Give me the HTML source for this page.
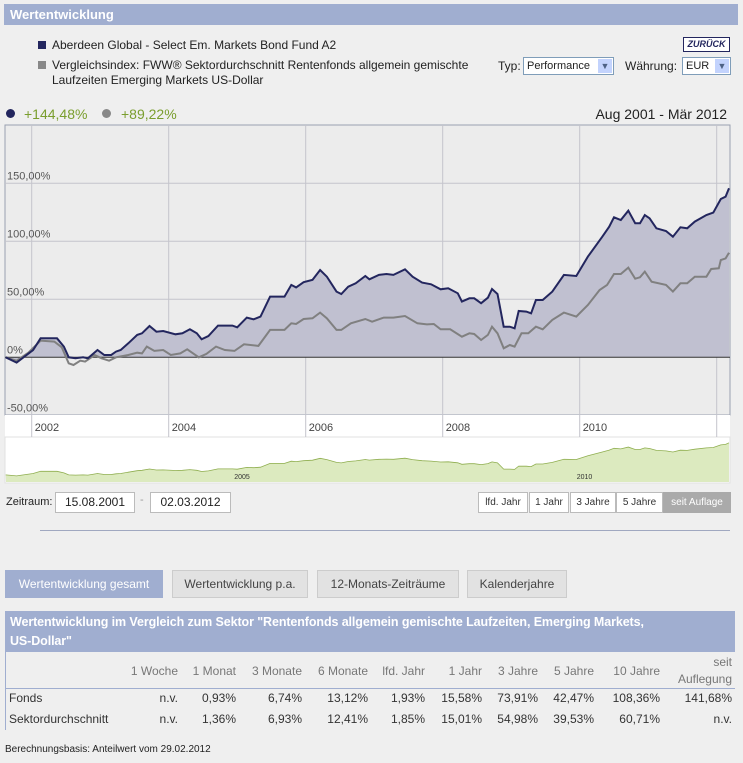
<!DOCTYPE html>
<html><head><meta charset="utf-8"><style>
body{margin:0;width:743px;height:763px;background:#efefef;font-family:"Liberation Sans",sans-serif;position:relative;overflow:hidden;color:#222}
.a{position:absolute}
.hdr{background:#a0aed0;color:#fff;font-weight:bold;font-size:13px}
.btn{position:absolute;top:492px;height:19px;background:#fff;border:1px solid #bbb;font-size:10px;line-height:19px;text-align:center;color:#333}
.tab{position:absolute;top:570px;height:26px;background:#e2e2e2;border:1px solid #ccc;font-size:12px;line-height:26px;text-align:center;color:#444}
.th{position:absolute;font-size:12px;color:#777;text-align:right}
.td{position:absolute;font-size:12px;color:#333;text-align:right}
</style></head><body>
<div class="a hdr" style="left:4px;top:4px;width:734px;height:21px;line-height:21px;padding-left:6px;box-sizing:border-box">Wertentwicklung</div>
<div class="a" style="left:38px;top:41px;width:8px;height:8px;background:#23265e"></div>
<div class="a" style="left:52px;top:38px;font-size:12px">Aberdeen Global - Select Em. Markets Bond Fund A2</div>
<div class="a" style="left:38px;top:61px;width:8px;height:8px;background:#888"></div>
<div class="a" style="left:52px;top:58px;font-size:12px;line-height:15px;width:440px">Vergleichsindex: FWW® Sektordurchschnitt Rentenfonds allgemein gemischte Laufzeiten Emerging Markets US-Dollar</div>
<div class="a" style="left:683px;top:37px;width:45px;height:13px;border:1px solid #23265e;background:#fff;font-size:9px;font-weight:bold;font-style:italic;color:#23265e;text-align:center;line-height:13px">ZURÜCK</div>
<div class="a" style="left:498px;top:59px;font-size:12px">Typ:</div>
<div class="a" style="left:523px;top:57px;width:86px;height:16px;border:1px solid #7f9db9;background:#fff;font-size:11px;line-height:16px;padding-left:3px;box-sizing:content-box">Performance<span style="position:absolute;right:1px;top:1px;width:14px;height:14px;background:#c3d3fd;color:#4d6185;font-size:9px;text-align:center;line-height:14px">▼</span></div>
<div class="a" style="left:625px;top:59px;font-size:12px">Währung:</div>
<div class="a" style="left:682px;top:57px;width:44px;height:16px;border:1px solid #7f9db9;background:#fff;font-size:11px;line-height:16px;padding-left:3px">EUR<span style="position:absolute;right:1px;top:1px;width:14px;height:14px;background:#c3d3fd;color:#4d6185;font-size:9px;text-align:center;line-height:14px">▼</span></div>
<div class="a" style="left:6px;top:109px;width:9px;height:9px;border-radius:50%;background:#23265e"></div>
<div class="a" style="left:24px;top:106px;font-size:14px;color:#7a9e2e">+144,48%</div>
<div class="a" style="left:102px;top:109px;width:9px;height:9px;border-radius:50%;background:#888"></div>
<div class="a" style="left:121px;top:106px;font-size:14px;color:#7a9e2e">+89,22%</div>
<div class="a" style="right:16px;top:106px;font-size:14px">Aug 2001 - Mär 2012</div>

<svg class="a" style="left:0;top:0" width="743" height="490">
<rect x="5" y="125" width="725" height="290" fill="#ececec" stroke="#9aa0b0"/>
<rect x="5" y="415" width="725" height="22" fill="#fff"/>
<rect x="5" y="437" width="725" height="46" fill="#fff" stroke="#e0e0e0"/>
<g id="grid"></g><g id="series"></g><g id="nav"></g>
</svg>

<div class="a" style="left:6px;top:496px;font-size:11px">Zeitraum:</div>
<div class="a" style="left:55px;top:492px;width:78px;height:19px;border:1px solid #bbb;background:#fff;font-size:12px;line-height:19px;text-align:center">15.08.2001</div>
<div class="a" style="left:140px;top:494px;font-size:11px;color:#999">-</div>
<div class="a" style="left:150px;top:492px;width:79px;height:19px;border:1px solid #bbb;background:#fff;font-size:12px;line-height:19px;text-align:center">02.03.2012</div>
<div class="btn" style="left:478px;width:48px">lfd. Jahr</div>
<div class="btn" style="left:529px;width:38px">1 Jahr</div>
<div class="btn" style="left:570px;width:44px">3 Jahre</div>
<div class="btn" style="left:616px;width:45px">5 Jahre</div>
<div class="btn" style="left:663px;width:66px;background:#aaa;border-color:#aaa;color:#fff">seit Auflage</div>
<div class="a" style="left:40px;top:530px;width:690px;height:1px;background:#a0a8c0"></div>

<div class="tab" style="left:5px;width:156px;background:#a0aed0;border-color:#a0aed0;color:#fff">Wertentwicklung gesamt</div>
<div class="tab" style="left:172px;width:134px">Wertentwicklung p.a.</div>
<div class="tab" style="left:317px;width:140px">12-Monats-Zeiträume</div>
<div class="tab" style="left:467px;width:98px">Kalenderjahre</div>

<div class="a hdr" style="left:5px;top:611px;width:730px;height:41px;padding:2px 5px;box-sizing:border-box;line-height:19px;font-size:12.5px;letter-spacing:-0.1px">Wertentwicklung im Vergleich zum Sektor "Rentenfonds allgemein gemischte Laufzeiten, Emerging Markets,<br>US-Dollar"</div>
<div class="a" style="left:5px;top:652px;width:1px;height:78px;background:#a0aed0"></div>
<div class="a" style="left:5px;top:688px;width:730px;height:1px;background:#a0aed0"></div>
<div id="tbl"></div>
<div class="a" style="left:5px;top:744px;font-size:10px">Berechnungsbasis: Anteilwert vom 29.02.2012</div>

<script>
const startYear = 2001.62;
const fundT = [0,.16,.26,.40,.51,.75,.85,.92,1.02,1.13,1.20,1.34,1.44,1.54,1.61,1.68,1.79,1.92,1.99,2.10,2.20,2.30,2.48,2.58,2.69,2.79,2.86,2.96,3.10,3.31,3.38,3.52,3.62,3.72,3.86,3.97,4.07,4.17,4.24,4.35,4.48,4.59,4.69,4.83,4.90,5.00,5.11,5.25,5.31,5.45,5.56,5.66,5.83,5.94,6.08,6.21,6.35,6.46,6.60,6.66,6.77,6.84,6.94,7.04,7.10,7.18,7.27,7.36,7.43,7.49,7.60,7.67,7.74,7.84,7.98,8.15,8.33,8.50,8.71,8.81,8.88,8.98,9.09,9.19,9.26,9.33,9.40,9.50,9.64,9.74,9.85,9.95,10.06,10.23,10.33,10.44,10.51,10.56];
const fundV = [0,-4.6,0,6.3,16.4,16.4,9.2,0,-0.9,0,-0.9,6.3,2,2,4.9,6.3,12.1,19.3,20.7,27,22.1,22.7,19.8,20.7,24.1,20.7,15.5,18.4,27.3,27.3,25.9,34.2,32.8,35.1,52.3,52.3,52.3,62.4,60.3,64.7,66.7,75.3,69.5,56.6,54.6,60.9,63.8,70.1,67.2,71,71.8,71,75.9,69.5,64.4,62.9,58.6,59.5,55.2,48,50.9,50.9,46.6,51.4,58.9,54.6,26.4,26.4,25,39.9,39.4,37.9,49.4,49.4,56.6,71,70.1,86.8,104,112.6,120.7,118.4,126.4,115.5,115.5,122.7,119.8,111.2,108.9,104,112.1,111.2,117,122.7,124.7,136.5,138.5,145.7];
const indexT = [0,.16,.33,.51,.71,.82,.92,.99,1.09,1.16,1.30,1.40,1.51,1.61,1.79,1.92,1.99,2.06,2.17,2.30,2.41,2.55,2.65,2.82,2.93,3.07,3.20,3.34,3.48,3.69,3.86,4.07,4.17,4.24,4.35,4.48,4.59,4.69,4.83,4.90,5.04,5.25,5.35,5.52,5.66,5.83,6.01,6.15,6.25,6.35,6.49,6.66,6.77,6.84,6.94,7.04,7.10,7.18,7.27,7.36,7.43,7.53,7.63,7.74,7.84,7.98,8.15,8.33,8.50,8.67,8.78,8.88,8.98,9.09,9.19,9.26,9.33,9.43,9.64,9.74,9.85,9.95,10.06,10.23,10.30,10.41,10.44,10.51,10.56];
const indexV = [0,-2.9,4,14.4,13.5,8.6,-5.2,-6.6,-2.9,-3.7,2,-0.9,-2.9,0,2,4,3.4,9.2,5.5,6.3,2,3.4,6.9,0,2.9,9.2,6.3,5.5,11.2,9.8,23.6,23.6,29.3,28.7,33,33.6,38.5,33.6,23.6,23.6,29.3,33,30.7,34.2,34.2,35.6,29.3,28.4,28.7,24.1,24.1,17.8,20.7,20.1,14.9,19.3,26.4,20.7,7.8,10.6,9.2,20.7,20.7,26.4,24.1,32.2,38.5,35.1,45.1,58,62.4,71.8,71.8,77.3,67.8,69,73.9,65.2,62.4,56.6,63.8,63.8,69.5,69.5,76.1,76.7,83.9,85.3,90.2];
const yTicks = [-50,0,50,100,150];
const yTickLabels = ["-50,00%","0%","50,00%","100,00%","150,00%"];
const xTicks = [2002,2004,2006,2008,2010,2012];
const xTickLabels = ["2002","2004","2006","2008","2010",""];
const navLabels = [2005,2010];

const NS="http://www.w3.org/2000/svg";
const X = yr => 31.7 + (yr-2002)*68.5;
const Y = v => 357.3 - v*1.16;
const NY = v => 476 - (v+5)*0.22;
function mk(tag, attrs, parent){const e=document.createElementNS(NS,tag);for(const k in attrs)e.setAttribute(k,attrs[k]);parent.appendChild(e);return e;}
const grid=document.getElementById('grid'), ser=document.getElementById('series'), nav=document.getElementById('nav');
xTicks.forEach((t,i)=>{
  const l=mk('line',{x1:X(t),x2:X(t),y1:125,y2:437,stroke:'#c4c4cc'},grid);
  
  
  const tx=mk('text',{x:X(t)+3,y:431,'font-size':11,fill:'#444','font-family':'Liberation Sans'},grid);
  tx.textContent=xTickLabels[i];
  
  
});
yTicks.forEach((v,i)=>{
  if(v!==-50&&v!==0){const l=mk('line',{x1:5,x2:730,y1:Y(v),y2:Y(v),stroke:'#c4c4cc'},grid);
  
  }
  const tx=mk('text',{x:7,y:Y(v)-4,'font-size':11,fill:'#555','font-family':'Liberation Sans'},grid);
  tx.textContent=yTickLabels[i];
  
  
});
const fp=fundT.map((t,i)=>X(startYear+t).toFixed(1)+','+Y(fundV[i]).toFixed(1));
const ip=indexT.map((t,i)=>X(startYear+t).toFixed(1)+','+Y(indexV[i]).toFixed(1));
const area=mk('polygon',{points:X(startYear+fundT[0])+','+Y(0)+' '+fp.join(' ')+' '+X(startYear+fundT[fundT.length-1])+','+Y(0),fill:'#c0c0d0'},ser);


const zl=mk('line',{x1:5,x2:730,y1:Y(0),y2:Y(0),stroke:'#333','stroke-width':1},ser);


const il=mk('polyline',{points:ip.join(' '),fill:'none',stroke:'#808080','stroke-width':2},ser);


const fl=mk('polyline',{points:fp.join(' '),fill:'none',stroke:'#23265e','stroke-width':2},ser);


const np=fundT.map((t,i)=>X(startYear+t).toFixed(1)+','+NY(fundV[i]).toFixed(1));
const na=mk('polygon',{points:'6,482 '+np.join(' ')+' 729,482',fill:'#dceabf',stroke:'none'},nav);


const nl=mk('polyline',{points:np.join(' '),fill:'none',stroke:'#8fae4f','stroke-width':0.8},nav);


navLabels.forEach(y=>{const t=mk('text',{x:X(y)-3,y:479,'font-size':7,fill:'#333','font-family':'Liberation Sans'},nav);t.textContent=y;

});

const cols=["1 Woche","1 Monat","3 Monate","6 Monate","lfd. Jahr","1 Jahr","3 Jahre","5 Jahre","10 Jahre","seit<br>Auflegung"];
const fundRow=["n.v.","0,93%","6,74%","13,12%","1,93%","15,58%","73,91%","42,47%","108,36%","141,68%"];
const sectRow=["n.v.","1,36%","6,93%","12,41%","1,85%","15,01%","54,98%","39,53%","60,71%","n.v."];
const rights=[178,236,302,368,425,482,538,594,660,732];
let h='';
cols.forEach((c,i)=>{const top=i===9?654:663;h+=`<div class="th" style="right:${743-rights[i]}px;top:${top}px;line-height:17px">${c}</div>`;});
h+=`<div class="td" style="left:9px;top:691px;text-align:left">Fonds</div>`;
h+=`<div class="td" style="left:9px;top:712px;text-align:left">Sektordurchschnitt</div>`;
fundRow.forEach((v,i)=>{h+=`<div class="td" style="right:${743-rights[i]}px;top:691px">${v}</div>`;});
sectRow.forEach((v,i)=>{h+=`<div class="td" style="right:${743-rights[i]}px;top:712px">${v}</div>`;});
document.getElementById('tbl').innerHTML=h;
</script>
</body></html>
